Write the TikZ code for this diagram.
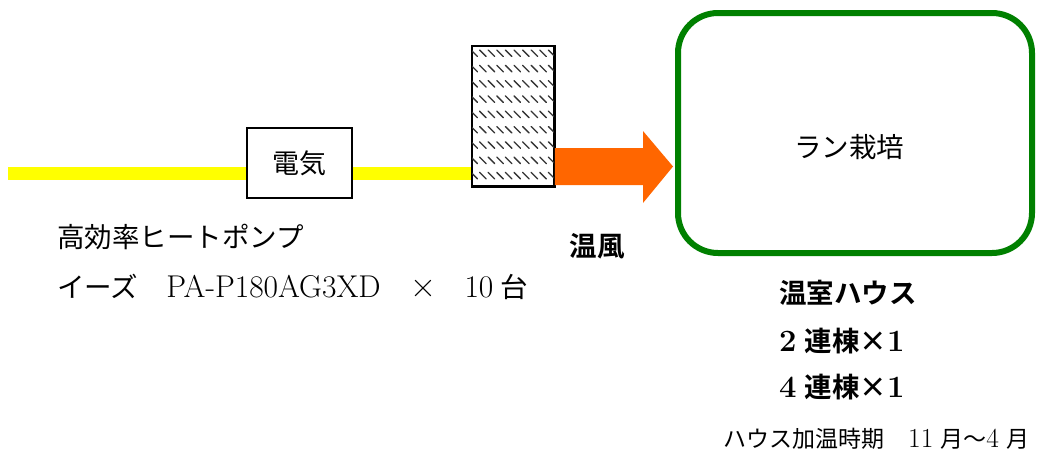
\documentclass[tikz,border=0pt]{standalone}
\usepackage{fontspec}
\newfontfamily\jp[BoldFont={Noto Sans CJK JP Bold}]{Noto Sans CJK JP}
\definecolor{ylw}{RGB}{255,255,0}
\definecolor{grn}{RGB}{0,128,0}
\definecolor{org}{RGB}{255,102,0}
\newcommand{\lat}[1]{{\rmfamily\fontsize{31.5}{30}\selectfont #1}}
\newcommand{\blat}[1]{{\rmfamily\bfseries\fontsize{31}{30}\selectfont #1}}
\newcommand{\slat}[1]{{\rmfamily\fontsize{27.5}{27}\selectfont #1}}
\begin{document}
\begin{tikzpicture}[x=1pt,y=-1pt,
  txt/.style={inner sep=0pt,anchor=west,font=\jp\fontsize{27.5}{30}\selectfont},
  btxt/.style={inner sep=0pt,anchor=west,font=\jp\bfseries\fontsize{27.5}{30}\selectfont},
  boxn/.style={draw=black,line width=1.5pt,fill=white,inner sep=0pt},
  pipe/.style={draw=ylw,line width=13pt}]
\useasboundingbox (0,0) rectangle (1037,453);
% heat pump box
\node[boxn,minimum width=82pt,minimum height=140pt] (hp) at (513,116) {};
\begin{scope}
\clip (hp.south west) rectangle (hp.north east);
\foreach \r in {0,...,8}{
  \foreach \c in {0,...,10}{
    \draw[line width=1.3pt,black!80,line cap=round] (471+\c*8.6,50+\r*15.3) -- ++(6.5,6.5);
  }
}
\end{scope}
\draw[line width=1.5pt] (hp.south west) rectangle (hp.north east);
% yellow pipe
\coordinate (src) at (8,173);
\node[boxn,minimum width=105pt,minimum height=70pt,font=\jp\fontsize{27}{30}\selectfont] (elec) at (299.5,163) {電気};
\path[pipe] (src) -- (elec.west |- src);
\path[pipe] (elec.east |- src) -- (hp.west |- src);
% orange arrow
\fill[org] (hp.east |- 0,148) -- (643,148) -- (643,131) -- (673,166.5) -- (643,203) -- (643,185) -- (hp.east |- 0,185) -- cycle;
% greenhouse
\node[draw=grn,line width=6pt,rounded corners=40pt,minimum width=354pt,minimum height=240pt] (house) at (855,133) {};
\node[inner sep=0pt,font=\jp\fontsize{27.5}{30}\selectfont] (ran) at (849,147) {ラン栽培};
% texts
\node[txt] (t1) at (57,237) {高効率ヒートポンプ};
\node[txt] (t2) at (57,287) {イーズ\hspace{28pt}\lat{PA-P180AG3XD\hspace{30pt}{\fontsize{36}{30}\selectfont ×}\hspace{28pt}10}\hspace{7pt}台};
\node[btxt,anchor=center] (wind) at (597,246) {温風};
\node[btxt] (h1) at (779,293) {温室ハウス};
\node[btxt] (h2) at (779,341) {\blat{2}\hspace{8pt}連棟×\blat{1}};
\node[btxt] (h3) at (779,387) {\blat{4}\hspace{8pt}連棟×\blat{1}};
\node[inner sep=0pt,anchor=west,font=\jp\fontsize{23}{27}\selectfont] (per) at (723,439) {ハウス加温時期\hspace{24pt}\slat{11}\hspace{7pt}月～\slat{4}\hspace{7pt}月};
\end{tikzpicture}
\end{document}
